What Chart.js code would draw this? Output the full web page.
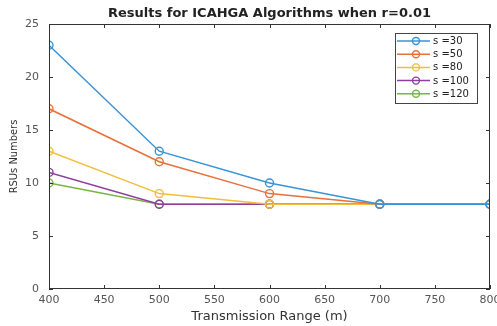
<!DOCTYPE html>
<html>
<head>
<meta charset="utf-8">
<script src="https://cdn.jsdelivr.net/npm/chart.js@4.4.0/dist/chart.umd.min.js"></script>
<style>
  html, body { margin: 0; padding: 0; background: #fff; }
  #c { display: block; }
</style>
</head>
<body>
<canvas id="c" width="497" height="326"></canvas>
<script>
const TITLE = 'Results for ICAHGA Algorithms when r=0.01';
const RANGES = [400, 500, 600, 700, 800];
const X_TICKS = [400, 450, 500, 550, 600, 650, 700, 750, 800];
const Y_TICKS = [0, 5, 10, 15, 20, 25];

const LABELS = ['s =30', 's =50', 's =80', 's =100', 's =120'];
const S30  = [23, 13, 10, 8, 8];
const S50  = [17, 12, 9, 8, 8];
const S80  = [13, 9, 8, 8, 8];
const S100 = [11, 8, 8, 8, 8];
const S120 = [10, 8, 8, 8, 8];

const COLORS = ['#3a93d6', '#e8703a', '#f2bd3c', '#8e3f9e', '#7ab443'];

const datasets = [S30, S50, S80, S100, S120].map((vals, i) => ({
  label: LABELS[i],
  data: vals.map((v, j) => ({ x: RANGES[j], y: v })),
  borderColor: COLORS[i],
  backgroundColor: COLORS[i],
  pointBackgroundColor: 'rgba(255,255,255,0)',
  pointBorderColor: COLORS[i],
  pointRadius: 4,
  pointBorderWidth: 1.4,
  borderWidth: 1.5,
  tension: 0,
}));

// box, inward ticks, title and legend drawn matlab style
const matlabFrame = {
  id: 'matlabFrame',
  afterDraw(chart) {
    const { ctx, chartArea: a, scales } = chart;
    ctx.save();
    ctx.strokeStyle = '#333';
    ctx.lineWidth = 1;
    ctx.strokeRect(a.left + 0.5, a.top + 0.5, a.right - a.left - 1, a.bottom - a.top - 1);

    ctx.beginPath();
    for (const v of X_TICKS) {
      const px = Math.round(scales.x.getPixelForValue(v)) + 0.5;
      ctx.moveTo(px, a.bottom); ctx.lineTo(px, a.bottom - 4);
      ctx.moveTo(px, a.top); ctx.lineTo(px, a.top + 4);
    }
    for (const v of Y_TICKS) {
      const py = Math.round(scales.y.getPixelForValue(v)) + 0.5;
      ctx.moveTo(a.left, py); ctx.lineTo(a.left + 4, py);
      ctx.moveTo(a.right, py); ctx.lineTo(a.right - 4, py);
    }
    ctx.stroke();

    // title
    ctx.fillStyle = '#222';
    ctx.font = 'bold 13px "DejaVu Sans"';
    ctx.textAlign = 'center';
    ctx.textBaseline = 'middle';
    ctx.fillText(TITLE, (a.left + a.right) / 2, 14);

    // legend
    const lx = 395, ly = 33, lw = 82, rowH = 13.2;
    const ds = chart.data.datasets;
    const lh = ds.length * rowH + 4;
    ctx.fillStyle = '#fff';
    ctx.fillRect(lx, ly, lw, lh);
    ctx.strokeStyle = '#444';
    ctx.strokeRect(lx + 0.5, ly + 0.5, lw, lh);
    ctx.font = '10px "DejaVu Sans"';
    ctx.textAlign = 'left';
    ds.forEach((d, i) => {
      const y = ly + 8 + i * rowH;
      ctx.strokeStyle = d.borderColor;
      ctx.lineWidth = 1.5;
      ctx.beginPath();
      ctx.moveTo(lx + 2, y); ctx.lineTo(lx + 35, y);
      ctx.stroke();
      ctx.lineWidth = 1.4;
      ctx.beginPath();
      ctx.arc(lx + 21, y, 3.5, 0, Math.PI * 2);
      ctx.stroke();
      ctx.fillStyle = '#222';
      ctx.fillText(d.label, lx + 38, y + 0.5);
    });
    ctx.restore();
  },
};

new Chart(document.getElementById('c'), {
  type: 'line',
  data: { datasets },
  options: {
    responsive: false,
    animation: false,
    layout: { padding: { top: 24, right: 7, left: 0, bottom: 0 } },
    plugins: {
      legend: { display: false },
      title: { display: false },
      tooltip: { enabled: false },
    },
    scales: {
      x: {
        type: 'linear',
        min: 400,
        max: 800,
        afterBuildTicks: s => { s.ticks = X_TICKS.map(v => ({ value: v })); },
        afterFit: s => { s.height = 37; s.paddingRight = 0; s.paddingLeft = 0; },
        grid: { display: false, drawTicks: false },
        border: { display: false },
        ticks: { color: '#555', font: { family: 'DejaVu Sans', size: 11 }, padding: 5, maxRotation: 0, autoSkip: false },
        title: {
          display: true,
          text: 'Transmission Range (m)',
          color: '#333',
          font: { family: 'DejaVu Sans', size: 13 },
          padding: { top: 0, bottom: 2 },
        },
      },
      y: {
        min: 0,
        max: 25,
        afterBuildTicks: s => { s.ticks = Y_TICKS.map(v => ({ value: v })); },
        afterFit: s => { s.width = 49; },
        grid: { display: false, drawTicks: false },
        border: { display: false },
        ticks: { color: '#555', font: { family: 'DejaVu Sans', size: 11 }, padding: 10 },
        title: {
          display: true,
          text: 'RSUs Numbers',
          color: '#333',
          font: { family: 'DejaVu Sans Condensed', size: 11 },
          padding: { top: 8, bottom: 0 },
        },
      },
    },
  },
  plugins: [matlabFrame],
});
</script>
</body>
</html>
